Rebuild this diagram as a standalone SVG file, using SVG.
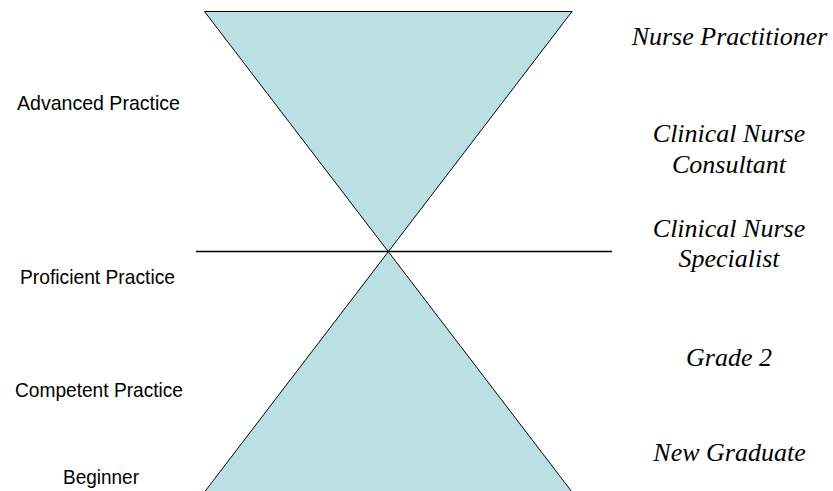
<svg xmlns="http://www.w3.org/2000/svg" width="833" height="491" viewBox="0 0 833 491">
<style>
.tri{fill:#BAE0E3;stroke:#000;stroke-width:1}
.lbl{font-family:"Liberation Sans",Arial,sans-serif;font-size:21px;fill:#000;text-anchor:middle}
.role{font-family:"Liberation Serif","Times New Roman",serif;font-style:italic;font-size:26px;fill:#000;text-anchor:middle}
</style>
<rect width="833" height="491" fill="#fff"/>
<g id="top-triangle"><polygon class="tri" points="204.5,11.5 572,11.5 388.3,251.7"/></g>
<g id="bottom-triangle"><polygon class="tri" points="388.3,251.7 204.5,492 572,492"/></g>
<g id="connectors"><line x1="196" y1="251.5" x2="612" y2="251.5" stroke="#000" stroke-width="1.3"/></g>
<g id="level-advanced"><text class="lbl" x="98.5" y="110" textLength="163" lengthAdjust="spacingAndGlyphs">Advanced Practice</text></g>
<g id="level-proficient"><text class="lbl" x="97.5" y="284" textLength="155" lengthAdjust="spacingAndGlyphs">Proficient Practice</text></g>
<g id="level-competent"><text class="lbl" x="99" y="397" textLength="168" lengthAdjust="spacingAndGlyphs">Competent Practice</text></g>
<g id="level-beginner"><text class="lbl" x="101" y="484" textLength="76" lengthAdjust="spacingAndGlyphs">Beginner</text></g>
<g id="role-np"><text class="role" x="729.5" y="45">Nurse Practitioner</text></g>
<g id="role-cnc"><text class="role" x="729" y="142">Clinical Nurse</text><text class="role" x="729" y="173">Consultant</text></g>
<g id="role-cns"><text class="role" x="729" y="237">Clinical Nurse</text><text class="role" x="729" y="267">Specialist</text></g>
<g id="role-grade2"><text class="role" x="729" y="366">Grade 2</text></g>
<g id="role-newgrad"><text class="role" x="729.5" y="461">New Graduate</text></g>
</svg>
